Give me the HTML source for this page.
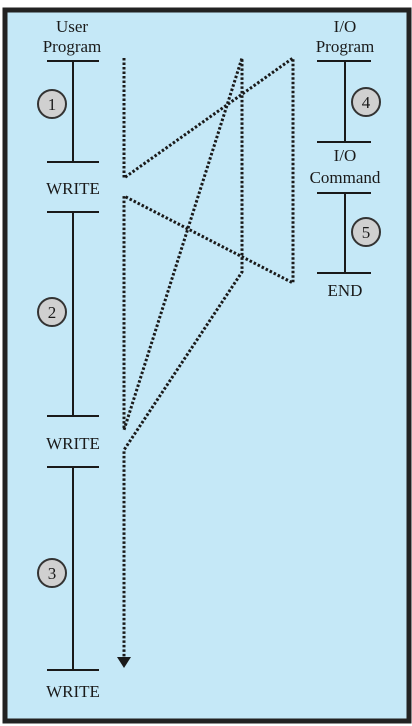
<!DOCTYPE html>
<html><head><meta charset="utf-8"><style>
html,body{margin:0;padding:0;background:#fff;}
svg{display:block;}
text{font-family:"Liberation Serif",serif;fill:#1a1a1a;}
</style></head><body>
<svg width="412" height="726" viewBox="0 0 412 726">
<rect x="5" y="10" width="404" height="711" fill="#c5e8f7" stroke="#222" stroke-width="5"/>
<g stroke="#1a1a1a" stroke-width="2">
<line x1="73" y1="61" x2="73" y2="162"/><line x1="47" y1="61" x2="99" y2="61"/><line x1="47" y1="162" x2="99" y2="162"/>
<line x1="73" y1="212" x2="73" y2="416"/><line x1="47" y1="212" x2="99" y2="212"/><line x1="47" y1="416" x2="99" y2="416"/>
<line x1="73" y1="467" x2="73" y2="670"/><line x1="47" y1="467" x2="99" y2="467"/><line x1="47" y1="670" x2="99" y2="670"/>
</g>
<g stroke="#1a1a1a" stroke-width="2">
<line x1="345" y1="61" x2="345" y2="142"/><line x1="317" y1="61" x2="371" y2="61"/><line x1="317" y1="142" x2="371" y2="142"/>
<line x1="345" y1="193" x2="345" y2="273"/><line x1="317" y1="193" x2="371" y2="193"/><line x1="317" y1="273" x2="371" y2="273"/>
</g>
<g font-size="17" text-anchor="middle">
<text x="72" y="32">User</text>
<text x="72" y="52">Program</text>
<text x="345" y="32">I/O</text>
<text x="345" y="52">Program</text>
<text x="345" y="161">I/O</text>
<text x="345" y="183">Command</text>
<text x="345" y="296">END</text>
<text x="73" y="194">WRITE</text>
<text x="73" y="449">WRITE</text>
<text x="73" y="697">WRITE</text>
</g>
<g font-size="17" text-anchor="middle">
<g><circle cx="52" cy="104" r="14" fill="#d0d0d0" stroke="#333" stroke-width="2"/><text x="52" y="110">1</text></g>
<g><circle cx="52" cy="312" r="14" fill="#d0d0d0" stroke="#333" stroke-width="2"/><text x="52" y="318">2</text></g>
<g><circle cx="52" cy="573" r="14" fill="#d0d0d0" stroke="#333" stroke-width="2"/><text x="52" y="579">3</text></g>
<g><circle cx="366" cy="102" r="14" fill="#d0d0d0" stroke="#333" stroke-width="2"/><text x="366" y="108">4</text></g>
<g><circle cx="366" cy="232" r="14" fill="#d0d0d0" stroke="#333" stroke-width="2"/><text x="366" y="238">5</text></g>
</g>
<polyline fill="none" stroke="#1a1a1a" stroke-width="3" stroke-dasharray="2.5,2" points="124,58 124,178 293,58 293,283 124,196 124,430 242,58 242,272 124,450 124,660"/>
<polygon points="117,657 131,657 124,668" fill="#1a1a1a"/>
</svg>
</body></html>
